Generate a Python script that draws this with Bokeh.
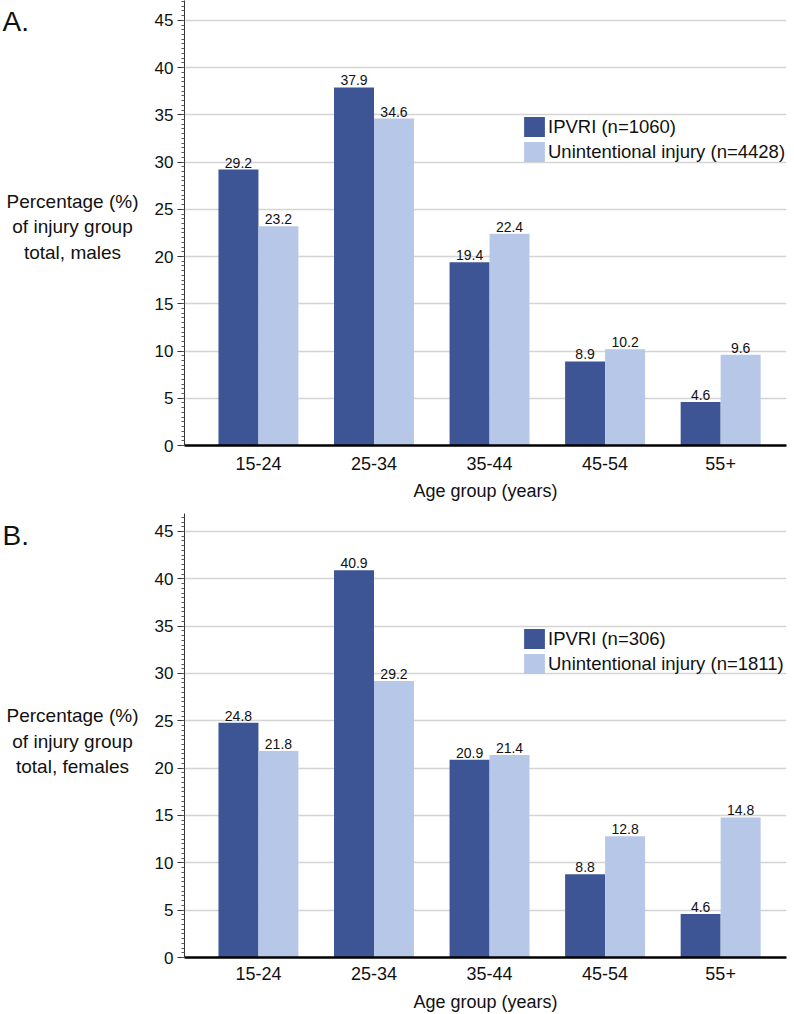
from bokeh.plotting import figure
from bokeh.models import (Range1d, FixedTicker, SingleIntervalTicker, ColumnDataSource,
                          LabelSet, Label, Legend, LegendItem)
from bokeh.transform import dodge
from bokeh.layouts import column, row
from bokeh.embed import file_html
from bokeh.resources import INLINE
from bokeh.core.properties import value

age_groups = ["15-24", "25-34", "35-44", "45-54", "55+"]
males_ipvri = [29.2, 37.9, 19.4, 8.9, 4.6]
males_unint = [23.2, 34.6, 22.4, 10.2, 9.6]
females_ipvri = [24.8, 40.9, 20.9, 8.8, 4.6]
females_unint = [21.8, 29.2, 21.4, 12.8, 14.8]
males_legend = ["IPVRI (n=1060)", "Unintentional injury (n=4428)"]
females_legend = ["IPVRI (n=306)", "Unintentional injury (n=1811)"]
males_ylabel = "Percentage (%)\nof injury group\ntotal, males"
females_ylabel = "Percentage (%)\nof injury group\ntotal, females"
x_title = "Age group (years)"

FONT = "Liberation Sans"
DARK = "#3d5594"
LIGHT = "#b7c7e7"
TXT = "#111111"
BAR_W = 0.346
X_START, X_END = -0.64, 4.57
SIDE_W = 140  # width of the side strip holding the panel tag and y title


def side_strip(tag, ylabel, height, tag_y, ylabel_y):
    s = figure(width=SIDE_W, height=height, output_backend="svg", toolbar_location=None,
               x_range=Range1d(0, SIDE_W), y_range=Range1d(height, 0),
               x_axis_type=None, y_axis_type=None,
               min_border_left=0, min_border_right=0, min_border_top=0,
               min_border_bottom=0)
    s.outline_line_color = None
    s.xgrid.grid_line_color = None
    s.ygrid.grid_line_color = None
    s.add_layout(Label(x=2, y=tag_y, text=tag, text_font=FONT, text_font_size="28px",
                       text_color=TXT, text_baseline="alphabetic", text_align="left"))
    s.add_layout(Label(x=72, y=ylabel_y, text=ylabel, text_font=FONT,
                       text_font_size="19px", text_color=TXT, text_align="center",
                       text_baseline="middle", text_line_height=1.2))
    return s


def panel(ipvri, unint, leg_labels, height, top, bottom, yend,
          leg_y, tick_standoff, title_standoff):
    p = figure(width=794 - SIDE_W, height=height, output_backend="svg",
               toolbar_location=None,
               x_range=Range1d(X_START, X_END), y_range=Range1d(0, yend),
               min_border_left=184 - SIDE_W, min_border_right=8, min_border_top=top,
               min_border_bottom=bottom)
    p.outline_line_color = None
    p.xgrid.grid_line_color = None
    p.ygrid.grid_line_color = "#d4d4d4"
    p.ygrid.grid_line_width = 1.5
    p.ygrid.ticker = SingleIntervalTicker(interval=5)

    idx = list(range(len(age_groups)))
    src = ColumnDataSource(dict(
        x=idx, ipvri=ipvri, unint=unint,
        ipvri_txt=[f"{v:.1f}" for v in ipvri],
        unint_txt=[f"{v:.1f}" for v in unint]))

    r1 = p.vbar(x=dodge("x", -BAR_W / 2, range=p.x_range), top="ipvri", width=BAR_W,
                source=src, fill_color=DARK, line_color=None)
    r2 = p.vbar(x=dodge("x", BAR_W / 2, range=p.x_range), top="unint", width=BAR_W,
                source=src, fill_color=LIGHT, line_color=None)

    for col, off in (("ipvri", -BAR_W / 2), ("unint", BAR_W / 2)):
        ls = LabelSet(x=dodge("x", off, range=p.x_range), y=col, text=col + "_txt",
                      source=src, y_offset=2, text_align="center",
                      text_baseline="bottom", text_font=value(FONT),
                      text_font_size=value("14px"), text_color=value(TXT))
        p.add_layout(ls)

    # x axis
    xa = p.xaxis[0]
    xa.ticker = FixedTicker(ticks=idx)
    xa.major_label_overrides = {i: g for i, g in zip(idx, age_groups)}
    xa.axis_line_width = 2.5
    xa.axis_line_color = "black"
    xa.major_tick_line_color = None
    xa.minor_tick_line_color = None
    xa.major_label_text_font = FONT
    xa.major_label_text_font_size = "18px"
    xa.major_label_text_color = TXT
    xa.major_label_standoff = tick_standoff
    xa.axis_label = x_title
    xa.axis_label_text_font = FONT
    xa.axis_label_text_font_size = "18px"
    xa.axis_label_text_font_style = "normal"
    xa.axis_label_text_color = TXT
    xa.axis_label_standoff = title_standoff

    # y axis
    ya = p.yaxis[0]
    ya.ticker = SingleIntervalTicker(interval=5, num_minor_ticks=10)
    ya.axis_line_color = "#333333"
    ya.axis_line_width = 1
    ya.major_tick_line_color = "#333333"
    ya.major_tick_out = 7
    ya.major_tick_in = 0
    ya.minor_tick_line_color = "#555555"
    ya.minor_tick_out = 3
    ya.minor_tick_in = 0
    ya.major_label_text_font = FONT
    ya.major_label_text_font_size = "17px"
    ya.major_label_text_color = TXT
    ya.major_label_standoff = 4

    legend = Legend(items=[LegendItem(label=leg_labels[0], renderers=[r1]),
                           LegendItem(label=leg_labels[1], renderers=[r2])],
                    location=(337, leg_y), orientation="vertical",
                    glyph_width=26, glyph_height=25, label_height=25,
                    label_standoff=1, spacing=0, padding=0, margin=0,
                    border_line_color=None, background_fill_alpha=0,
                    label_text_font=FONT, label_text_font_size="18.5px",
                    label_text_color=TXT, label_text_baseline="middle")
    p.add_layout(legend)
    return p


H1, H2 = 503, 511
p1 = panel(males_ipvri, males_unint, males_legend, height=H1, top=0, bottom=58,
           yend=47.1, leg_y=281, tick_standoff=5, title_standoff=8)
s1 = side_strip("A.", males_ylabel, H1, tag_y=24, ylabel_y=256)

p2 = panel(females_ipvri, females_unint, females_legend, height=H2, top=10, bottom=57,
           yend=46.9, leg_y=281, tick_standoff=3, title_standoff=9)
s2 = side_strip("B.", females_ylabel, H2, tag_y=25, ylabel_y=262)

layout = column(row(s1, p1, spacing=0), row(s2, p2, spacing=0), spacing=0)
open("out.html", "w").write(file_html(layout, INLINE))
